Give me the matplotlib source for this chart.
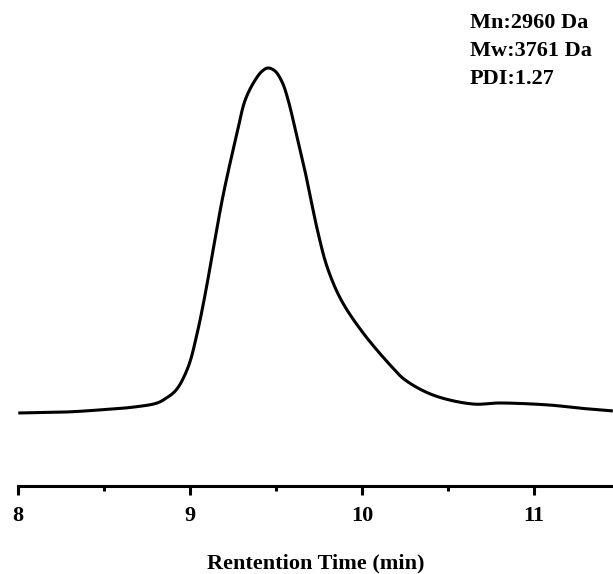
import matplotlib
matplotlib.use("Agg")
import matplotlib.pyplot as plt
import numpy as np

# Retention time (min) and normalized detector signal
time_min = [8.000, 8.285, 8.477, 8.669, 8.808, 8.860, 8.919, 8.988, 9.041, 9.081,
            9.116, 9.151, 9.186, 9.227, 9.273, 9.320, 9.378, 9.419, 9.453, 9.494,
            9.535, 9.570, 9.616, 9.663, 9.703, 9.744, 9.797, 9.878, 10.006, 10.180,
            10.250, 10.413, 10.645, 10.802, 11.093, 11.267, 11.459]
signal = [0.000, 0.003, 0.009, 0.017, 0.029, 0.043, 0.067, 0.133, 0.232, 0.328,
          0.423, 0.522, 0.617, 0.713, 0.812, 0.907, 0.965, 0.991, 1.000, 0.991,
          0.959, 0.907, 0.812, 0.713, 0.617, 0.522, 0.423, 0.328, 0.232, 0.130,
          0.096, 0.052, 0.026, 0.029, 0.023, 0.014, 0.006]
xticks = [8, 9, 10, 11]
minor_ticks = [8.5, 9.5, 10.5]
annot = ["Mn:2960 Da", "Mw:3761 Da", "PDI:1.27"]

plt.rcParams['font.family'] = ['Liberation Serif', 'DejaVu Serif']
plt.rcParams['font.weight'] = 'bold'

fig = plt.figure(figsize=(6.13, 5.74), dpi=100)
ax = fig.add_axes([18/613, 88/574, 1 - 18/613, 1 - 88/574])

# centripetal Catmull-Rom spline through the read points (smooth trace)
sx, sy = 172.0, 345.0  # display scaling so the parametrisation is isotropic
pts = np.column_stack([np.array(time_min) * sx, np.array(signal) * sy])
P = np.vstack([2*pts[0] - pts[1], pts, 2*pts[-1] - pts[-2]])
curve = []
for i in range(1, len(P) - 2):
    p0, p1, p2, p3 = P[i-1], P[i], P[i+1], P[i+2]
    def tj(ti, a, b):
        return ti + np.linalg.norm(b - a) ** 0.5
    t0 = 0.0
    t1 = tj(t0, p0, p1); t2 = tj(t1, p1, p2); t3 = tj(t2, p2, p3)
    for t in np.linspace(t1, t2, 14, endpoint=False):
        A1 = (t1-t)/(t1-t0)*p0 + (t-t0)/(t1-t0)*p1
        A2 = (t2-t)/(t2-t1)*p1 + (t-t1)/(t2-t1)*p2
        A3 = (t3-t)/(t3-t2)*p2 + (t-t2)/(t3-t2)*p3
        B1 = (t2-t)/(t2-t0)*A1 + (t-t0)/(t2-t0)*A2
        B2 = (t3-t)/(t3-t1)*A2 + (t-t1)/(t3-t1)*A3
        C = (t2-t)/(t2-t1)*B1 + (t-t1)/(t2-t1)*B2
        curve.append(C)
curve.append(pts[-1])
curve = np.array(curve)
ax.plot(curve[:, 0] / sx, curve[:, 1] / sy, color='black', lw=2.2,
        solid_capstyle='butt', solid_joinstyle='round')

ax.set_xlim(8 - 0.3/172, 11.46)
ax.set_ylim(-0.2116, 1.197)
for s in ['top', 'right', 'left']:
    ax.spines[s].set_visible(False)
ax.spines['bottom'].set_linewidth(2.2)
ax.set_yticks([])
ax.set_xticks(xticks)
ax.set_xticks(minor_ticks, minor=True)
ax.tick_params(axis='x', which='major', length=6.5, width=2.2, labelsize=16, pad=8)
ax.tick_params(axis='x', which='minor', length=3.6, width=2.2)
for lab in ax.get_xticklabels():
    lab.set_fontweight('bold')
ax.set_xlabel("Rentention Time (min)", fontsize=16, fontweight='bold', labelpad=20)

for i, t in enumerate(annot):
    fig.text(470/613, 1 - (28 + 28*i)/574, t, fontsize=16, fontweight='bold',
             ha='left', va='baseline')

fig.savefig("out.png", dpi=100)
